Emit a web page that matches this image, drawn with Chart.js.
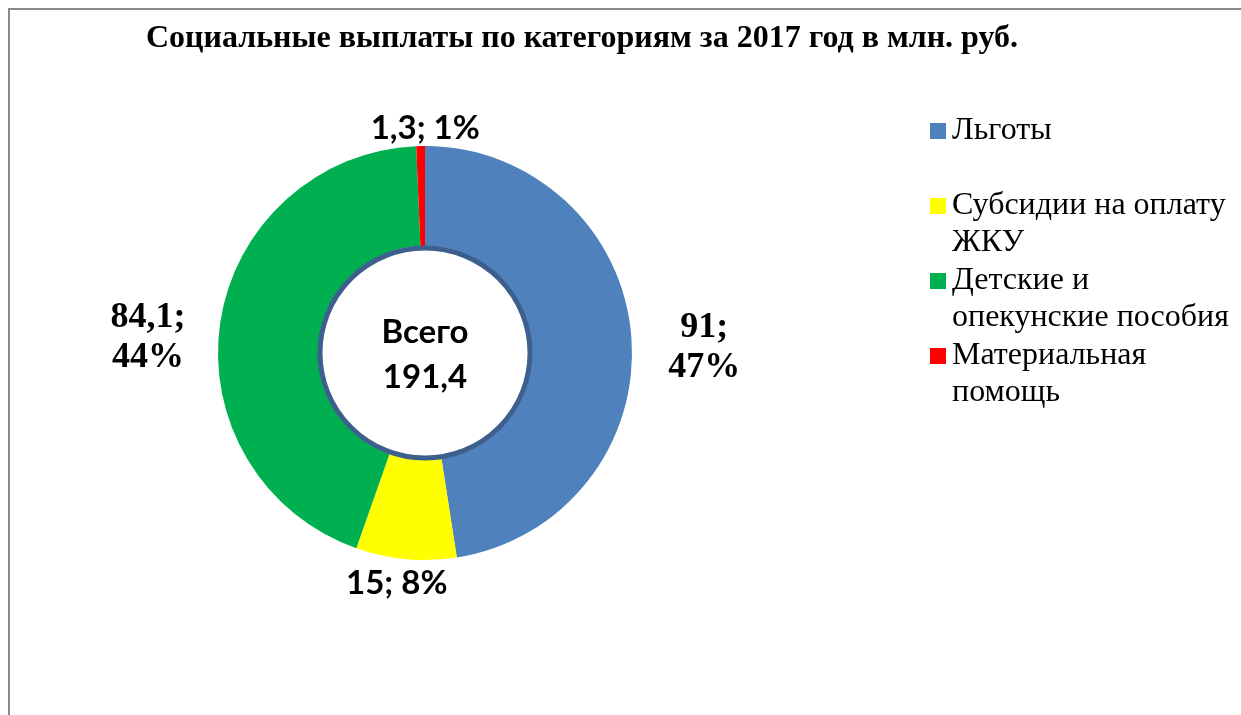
<!DOCTYPE html>
<html>
<head>
<meta charset="utf-8">
<script src="https://cdn.jsdelivr.net/npm/chart.js@4/dist/chart.umd.min.js"></script>
<style>
  html, body { margin: 0; padding: 0; background: #fff; }
  #wrap { position: relative; width: 1241px; height: 715px; }
</style>
</head>
<body>
<div id="wrap"><canvas id="pay-chart" width="1241" height="715"></canvas></div>
<script>
// data
var categories = ['Льготы', 'Субсидии на оплату\nЖКУ', 'Детские и\nопекунские пособия', 'Материальная\nпомощь'];
var values = [91, 15, 84.1, 1.3];
var percents = [47, 8, 44, 1];
var colors = ['#4F81BD', '#FFFF00', '#00B050', '#FF0000'];
var titleText = 'Социальные выплаты по категориям за 2017 год в млн. руб.';
var centerCaption = 'Всего';

// how each data label sits around the ring
var labelStyle = [
    { dist: 73, dx: 0, dy: 16, serif: true, twoLines: true },
    { dist: 24, dx: -7, dy: 0, serif: false, twoLines: false },
    { dist: 73, dx: 0, dy: 26, serif: true, twoLines: true },
    { dist: 18, dx: 5, dy: 0, serif: false, twoLines: false }
];

function fmt(v) {
    return String(v).replace('.', ',');
}

var decorPlugin = {
    id: 'decor',
    beforeDraw: function(chart) {
        const ctx = chart.ctx;
        ctx.save();
        ctx.strokeStyle = '#8a8a8a';
        ctx.lineWidth = 2;
        ctx.beginPath();
        ctx.moveTo(9, 715);
        ctx.lineTo(9, 9);
        ctx.lineTo(1241, 9);
        ctx.stroke();
        ctx.restore();
    },
    afterDatasetsDraw: function(chart) {
        const ctx = chart.ctx;
        const meta = chart.getDatasetMeta(0);
        const arc0 = meta.data[0];
        const cx = arc0.x, cy = arc0.y;
        const inner = arc0.innerRadius;

        // white centre with dark ring
        ctx.save();
        ctx.beginPath();
        ctx.arc(cx, cy, inner - 2, 0, Math.PI * 2);
        ctx.fillStyle = '#fff';
        ctx.fill();
        ctx.lineWidth = 5;
        ctx.strokeStyle = '#3C5F8E';
        ctx.stroke();

        ctx.fillStyle = '#000';
        ctx.textAlign = 'center';
        ctx.textBaseline = 'middle';
        ctx.font = 'bold 33px Lato';
        const total = values.reduce((a, b) => a + b, 0);
        ctx.fillText(centerCaption, cx, cy - 21);
        ctx.fillText(fmt(total.toFixed(1)), cx, cy + 24);

        // data labels
        meta.data.forEach(function(arc, i) {
            const st = labelStyle[i];
            const mid = (arc.startAngle + arc.endAngle) / 2;
            const r = arc.outerRadius + st.dist;
            const x = cx + Math.cos(mid) * r + st.dx;
            const y = cy + Math.sin(mid) * r + st.dy;
            if (st.serif) {
                ctx.font = 'bold 36px "Liberation Serif"';
            } else {
                ctx.font = 'bold 33px Lato';
            }
            if (st.twoLines) {
                ctx.fillText(fmt(values[i]) + ';', x, y - 20);
                ctx.fillText(percents[i] + '%', x, y + 20);
            } else {
                ctx.fillText(fmt(values[i]) + '; ' + percents[i] + '%', x, y);
            }
        });

        // title
        ctx.font = 'bold 32px "Liberation Serif"';
        ctx.fillText(titleText, 582, 39);

        // legend
        ctx.textAlign = 'left';
        ctx.font = '32px "Liberation Serif"';
        categories.forEach(function(c, i) {
            const top = 131 + i * 75;
            ctx.fillStyle = colors[i];
            ctx.fillRect(930, top - 8, 16, 16);
            ctx.fillStyle = '#000';
            c.split('\n').forEach(function(line, j) {
                ctx.fillText(line, 952, top + j * 37);
            });
        });
        ctx.restore();
    }
};

new Chart(document.getElementById('pay-chart'), {
    type: 'doughnut',
    data: {
        labels: categories.map(c => c.replace('\n', ' ')),
        datasets: [{
            data: values,
            backgroundColor: colors,
            borderWidth: 0
        }]
    },
    options: {
        responsive: false,
        animation: false,
        cutout: '51.7%',
        layout: {
            padding: { left: 218, right: 609, top: 146, bottom: 155 }
        },
        plugins: {
            legend: { display: false },
            title: { display: false },
            tooltip: { enabled: false }
        }
    },
    plugins: [decorPlugin]
});
</script>
</body>
</html>
